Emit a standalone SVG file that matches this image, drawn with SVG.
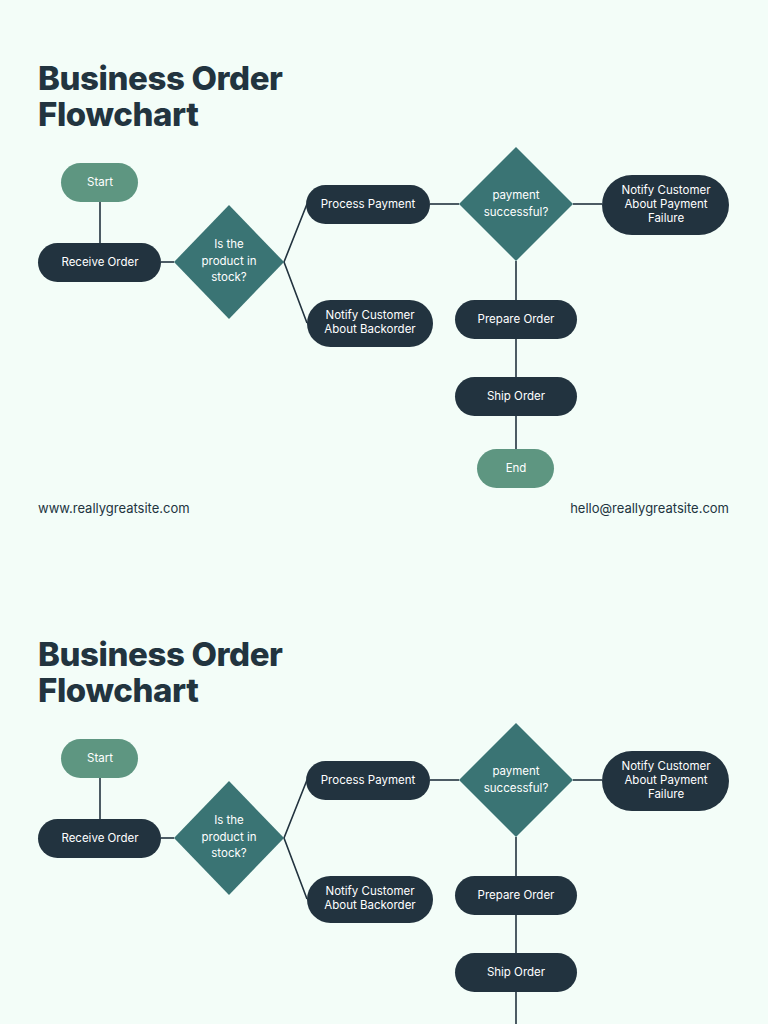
<svg xmlns="http://www.w3.org/2000/svg" width="768" height="1024" viewBox="0 0 768 1024">
<style>
.title{font-family:Inter,"Open Sans",sans-serif;font-weight:800;font-size:33px;fill:#22343f;letter-spacing:-0.4px}
.t{font-family:Inter,"Open Sans",sans-serif;font-size:11.5px;fill:#ffffff;text-anchor:middle}
.f{font-family:Inter,"Open Sans",sans-serif;font-size:13px;fill:#22343f}
.dk{fill:#22333f}.tl{fill:#3a7474}.lt{fill:#5e9681}
.c line,.c polyline{stroke:#22333f;stroke-width:1.6;fill:none}
</style>
<rect width="768" height="1024" fill="#f3fdf8"/>

<g id="copy1">
<text class="title" x="38" y="90">Business Order</text>
<text class="title" x="38" y="126">Flowchart</text>
<g class="c" id="connectors1">
<line x1="100" y1="202" x2="100" y2="243"/>
<line x1="161" y1="262" x2="174" y2="262"/>
<polyline points="307,204 284,262 307,323"/>
<line x1="430" y1="204" x2="459" y2="204"/>
<line x1="573" y1="204" x2="602" y2="204"/>
<line x1="516" y1="261" x2="516" y2="449"/>
</g>
<g id="start1"><rect class="lt" x="61" y="163" width="77" height="39" rx="19.5"/><text class="t" x="100" y="186">Start</text></g>
<g id="receive1"><rect class="dk" x="38" y="243" width="123" height="39" rx="19.5"/><text class="t" x="100" y="266">Receive Order</text></g>
<g id="stock1"><polygon class="tl" points="174,262 229,205 284,262 229,319"/><text class="t" x="229" y="248">Is the</text><text class="t" x="229" y="265">product in</text><text class="t" x="229" y="281">stock?</text></g>
<g id="payment1"><rect class="dk" x="306" y="185" width="124" height="39" rx="19.5"/><text class="t" x="368" y="208">Process Payment</text></g>
<g id="success1"><polygon class="tl" points="459,204 516,147 573,204 516,261"/><text class="t" x="516" y="199">payment</text><text class="t" x="516" y="216">successful?</text></g>
<g id="failure1"><rect class="dk" x="602" y="175" width="127" height="60" rx="30"/><text class="t" x="666" y="194">Notify Customer</text><text class="t" x="666" y="208">About Payment</text><text class="t" x="666" y="222">Failure</text></g>
<g id="backorder1"><rect class="dk" x="307" y="300" width="126" height="47" rx="23.5"/><text class="t" x="370" y="319">Notify Customer</text><text class="t" x="370" y="333">About Backorder</text></g>
<g id="prepare1"><rect class="dk" x="455" y="300" width="122" height="39" rx="19.5"/><text class="t" x="516" y="323">Prepare Order</text></g>
<g id="ship1"><rect class="dk" x="455" y="377" width="122" height="39" rx="19.5"/><text class="t" x="516" y="400">Ship Order</text></g>
<g id="end1"><rect class="lt" x="477" y="449" width="77" height="39" rx="19.5"/><text class="t" x="516" y="472">End</text></g>
<text class="f" x="38" y="513">www.reallygreatsite.com</text>
<text class="f" x="729" y="513" text-anchor="end">hello@reallygreatsite.com</text>
</g>

<g id="copy2" transform="translate(0,576)">
<text class="title" x="38" y="90">Business Order</text>
<text class="title" x="38" y="126">Flowchart</text>
<g class="c" id="connectors2">
<line x1="100" y1="202" x2="100" y2="243"/>
<line x1="161" y1="262" x2="174" y2="262"/>
<polyline points="307,204 284,262 307,323"/>
<line x1="430" y1="204" x2="459" y2="204"/>
<line x1="573" y1="204" x2="602" y2="204"/>
<line x1="516" y1="261" x2="516" y2="449"/>
</g>
<g id="start2"><rect class="lt" x="61" y="163" width="77" height="39" rx="19.5"/><text class="t" x="100" y="186">Start</text></g>
<g id="receive2"><rect class="dk" x="38" y="243" width="123" height="39" rx="19.5"/><text class="t" x="100" y="266">Receive Order</text></g>
<g id="stock2"><polygon class="tl" points="174,262 229,205 284,262 229,319"/><text class="t" x="229" y="248">Is the</text><text class="t" x="229" y="265">product in</text><text class="t" x="229" y="281">stock?</text></g>
<g id="payment2"><rect class="dk" x="306" y="185" width="124" height="39" rx="19.5"/><text class="t" x="368" y="208">Process Payment</text></g>
<g id="success2"><polygon class="tl" points="459,204 516,147 573,204 516,261"/><text class="t" x="516" y="199">payment</text><text class="t" x="516" y="216">successful?</text></g>
<g id="failure2"><rect class="dk" x="602" y="175" width="127" height="60" rx="30"/><text class="t" x="666" y="194">Notify Customer</text><text class="t" x="666" y="208">About Payment</text><text class="t" x="666" y="222">Failure</text></g>
<g id="backorder2"><rect class="dk" x="307" y="300" width="126" height="47" rx="23.5"/><text class="t" x="370" y="319">Notify Customer</text><text class="t" x="370" y="333">About Backorder</text></g>
<g id="prepare2"><rect class="dk" x="455" y="300" width="122" height="39" rx="19.5"/><text class="t" x="516" y="323">Prepare Order</text></g>
<g id="ship2"><rect class="dk" x="455" y="377" width="122" height="39" rx="19.5"/><text class="t" x="516" y="400">Ship Order</text></g>
</g>
</svg>
